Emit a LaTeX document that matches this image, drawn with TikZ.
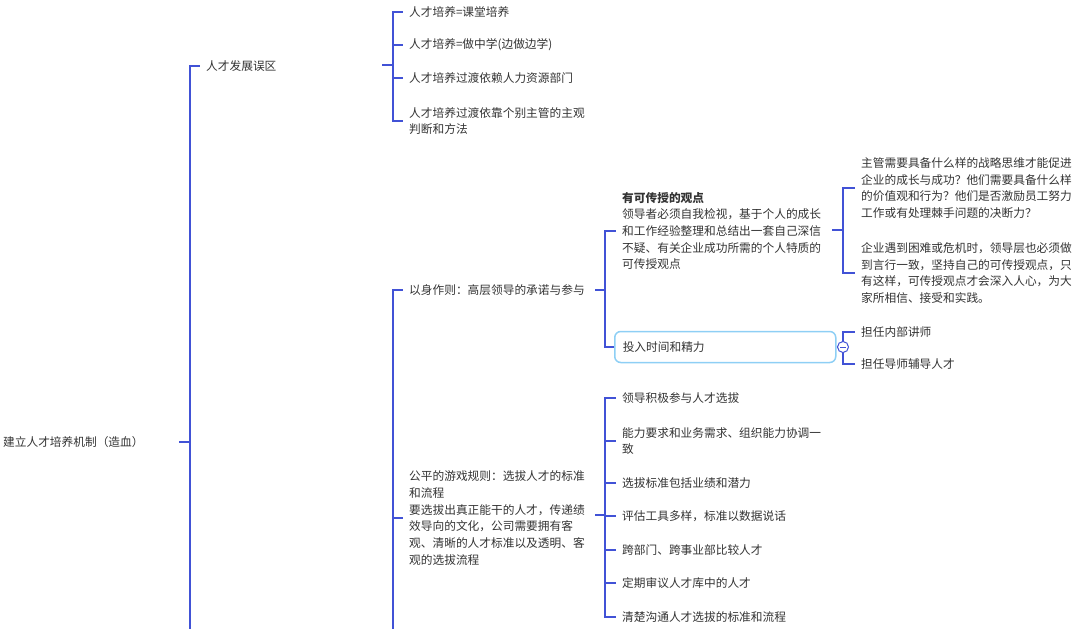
\documentclass[tikz,border=0pt]{standalone}
\usepackage{fontspec}
\setmainfont{Noto Sans CJK SC}
\usepackage{tikz}
\usetikzlibrary{positioning, calc}
\definecolor{mBranch}{HTML}{4152D6}
\definecolor{mText}{HTML}{333333}
\definecolor{mBoxLine}{HTML}{8ECFF5}
\tikzset{
  topic/.style={anchor=west, inner sep=0pt, align=left, text=mText,
    font=\fontsize{11.7}{16.7}\selectfont},
  link/.style={mBranch, line width=1.8pt},
}

\begin{document}
\begin{tikzpicture}[x=1pt, y=-1pt]
  \useasboundingbox (0,0) rectangle (1080,629);
  \clip (0,0) rectangle (1080,629);

  % Root and first level
  \node[topic] (root) at (3,442) {建立人才培养机制（造血）};
  \node[topic] (myth) at (206,66) {人才发展误区};
  \coordinate (j0) at (190,442);
  \coordinate (j0end) at (190,640);
  \draw[link] ($(j0)+(-11,0)$) -- (j0);
  \draw[link] (j0) -- (j0end);
  \draw[link] (j0) |- ($(myth.west)+(-6,0)$);

  % Myths
  \node[topic] (myth1) at (409,12) {人才培养=课堂培养};
  \node[topic] (myth2) at (409,45) {人才培养=做中学(边做边学)};
  \node[topic] (myth3) at (409,78) {人才培养过渡依赖人力资源部门};
  \node[topic] (myth4) at (409,121) {人才培养过渡依靠个别主管的主观\\判断和方法};
  \coordinate (j1) at (393,65);
  \draw[link] ($(j1)+(-11,0)$) -- (j1);
  \foreach \n in {myth1,myth2,myth3,myth4}
    \draw[link] (j1) |- ($(\n.west)+(-6,0)$);

  % Second group (parent below the view)
  \node[topic] (lead) at (409,290) {以身作则：高层领导的承诺与参与};
  \node[topic] (fair) at (409,518) {公平的游戏规则：选拔人才的标准\\和流程\\要选拔出真正能干的人才，传递绩\\效导向的文化，公司需要拥有客\\观、清晰的人才标准以及透明、客\\观的选拔流程};
  \coordinate (j2) at (393,640);
  \draw[link] (j2) |- ($(lead.west)+(-6,0)$);
  \draw[link] (j2) |- ($(fair.west)+(-6,0)$);

  % Leading by example
  \node[topic] (view) at (622,231) {{\bfseries 有可传授的观点}\\领导者必须自我检视，基于个人的成长\\和工作经验整理和总结出一套自己深信\\不疑、有关企业成功所需的个人特质的\\可传授观点};
  \node[topic, draw=mBoxLine, line width=1.5pt, rounded corners=6pt,
    inner xsep=8pt, text width=205pt, minimum height=31pt] (time) at (614,347) {投入时间和精力};
  \coordinate (j21) at (605,290);
  \draw[link] ($(j21)+(-10,0)$) -- (j21);
  \draw[link] (j21) |- ($(view.west)+(-6,0)$);
  \draw[link] (j21) |- (time.west);

  \node[topic] (ask) at (861,188) {主管需要具备什么样的战略思维才能促进\\企业的成长与成功？他们需要具备什么样\\的价值观和行为？他们是否激励员工努力\\工作或有处理棘手问题的决断力？};
  \node[topic] (keep) at (861,273) {企业遇到困难或危机时，领导层也必须做\\到言行一致，坚持自己的可传授观点，只\\有这样，可传授观点才会深入人心，为大\\家所相信、接受和实践。};
  \coordinate (j211) at (843,230);
  \draw[link] ($(j211)+(-11,0)$) -- (j211);
  \draw[link] (j211) |- ($(ask.west)+(-6,0)$);
  \draw[link] (j211) |- ($(keep.west)+(-6,0)$);

  \node[topic] (teach) at (861,332) {担任内部讲师};
  \node[topic] (mentor) at (861,364) {担任导师辅导人才};
  \coordinate (j212) at (843,347);
  \draw[link] (time.east) -- (j212);
  \draw[link] (j212) |- ($(teach.west)+(-6,0)$);
  \draw[link] (j212) |- ($(mentor.west)+(-6,0)$);
  \node[circle, draw=mBranch, fill=white, line width=1pt, minimum size=11pt,
    inner sep=0pt] (fold) at (j212) {};
  \draw[mBranch, line width=1pt] ($(fold.center)+(-3,0)$) -- ($(fold.center)+(3,0)$);

  % Fair rules
  \node[topic] (fair1) at (622,398) {领导积极参与人才选拔};
  \node[topic] (fair2) at (622,441) {能力要求和业务需求、组织能力协调一\\致};
  \node[topic] (fair3) at (622,483) {选拔标准包括业绩和潜力};
  \node[topic] (fair4) at (622,516) {评估工具多样，标准以数据说话};
  \node[topic] (fair5) at (622,550) {跨部门、跨事业部比较人才};
  \node[topic] (fair6) at (622,583) {定期审议人才库中的人才};
  \node[topic] (fair7) at (622,617) {清楚沟通人才选拔的标准和流程};
  \coordinate (j22) at (605,515);
  \draw[link] ($(j22)+(-10,0)$) -- (j22);
  \foreach \n in {fair1,fair2,fair3,fair4,fair5,fair6,fair7}
    \draw[link] (j22) |- ($(\n.west)+(-6,0)$);
\end{tikzpicture}
\end{document}
